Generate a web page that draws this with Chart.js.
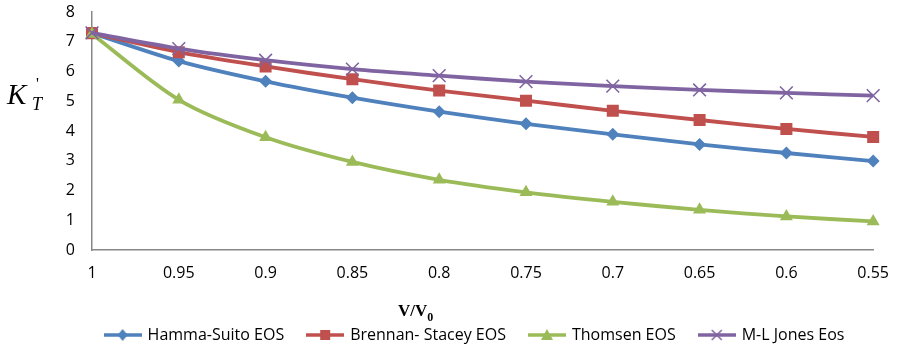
<!DOCTYPE html>
<html><head><meta charset="utf-8">
<script src="https://cdn.jsdelivr.net/npm/chart.js@4/dist/chart.umd.min.js"></script>
<style>html,body{margin:0;padding:0;background:#fff}#wrap{width:898px;height:348px}</style>
</head><body><div id="wrap"><canvas id="c" width="898" height="348"></canvas></div>
<script>
const categories = ['1','0.95','0.9','0.85','0.8','0.75','0.7','0.65','0.6','0.55'];
const hammaSuito = [7.29, 6.35, 5.67, 5.12, 4.65, 4.24, 3.89, 3.55, 3.26, 2.99];
const brennanStacey = [7.29, 6.65, 6.17, 5.74, 5.36, 5.02, 4.68, 4.37, 4.07, 3.80];
const thomsen = [7.26, 5.05, 3.79, 2.96, 2.36, 1.94, 1.62, 1.35, 1.13, 0.96];
const mlJones = [7.30, 6.77, 6.38, 6.08, 5.86, 5.66, 5.51, 5.38, 5.28, 5.19];
const seriesNames = ['Hamma-Suito EOS','Brennan- Stacey EOS','Thomsen EOS','M-L Jones Eos'];
const yTicks = [0,1,2,3,4,5,6,7,8];

const colors = ['#4F81BD','#C0504D','#9BBB59','#8064A2'];
const styles = ['rectRot','rect','triangle','crossRot'];
const radii = [6.5,8.5,7.5,9];
const FONT = '"Open Sans", "Liberation Sans", sans-serif';

function legendIcon(i){
  const cv = document.createElement('canvas');
  cv.width = 38; cv.height = 16;
  const g = cv.getContext('2d');
  g.strokeStyle = colors[i]; g.lineWidth = 3.5;
  g.beginPath(); g.moveTo(0,8); g.lineTo(38,8); g.stroke();
  g.fillStyle = colors[i];
  const cx=19, cy=8;
  if(i===0){ g.beginPath(); g.moveTo(cx,cy-6); g.lineTo(cx+5,cy); g.lineTo(cx,cy+6); g.lineTo(cx-5,cy); g.closePath(); g.fill(); }
  else if(i===1){ g.fillRect(cx-5,cy-5,10,10); }
  else if(i===2){ g.beginPath(); g.moveTo(cx,cy-6); g.lineTo(cx+6,cy+5); g.lineTo(cx-6,cy+5); g.closePath(); g.fill(); }
  else { g.lineWidth=1.5; g.beginPath(); g.moveTo(cx-5,cy-5); g.lineTo(cx+5,cy+5); g.moveTo(cx+5,cy-5); g.lineTo(cx-5,cy+5); g.stroke(); }
  return cv;
}
const icons = [0,1,2,3].map(legendIcon);

const allData = [hammaSuito, brennanStacey, thomsen, mlJones];
const datasets = allData.map((d,i)=>({
  label: seriesNames[i],
  data: d,
  order: 3 - i,
  borderColor: colors[i],
  backgroundColor: colors[i],
  borderWidth: 3.8,
  pointStyle: styles[i],
  pointRadius: radii[i],
  pointHoverRadius: radii[i],
  pointBorderWidth: i===3 ? 1.6 : 0,
  pointBorderColor: colors[i],
  pointBackgroundColor: colors[i],
  tension: 0.3,
  fill: false
}));

const titles = {
  id: 'titles',
  afterLayout(chart){ const l = chart.legend; l.left += 37; l.right += 37; l.top += 5; l.bottom += 5; },
  afterDraw(chart){
    const ctx = chart.ctx;
    ctx.save();
    ctx.fillStyle = '#000';
    ctx.textBaseline = 'alphabetic';
    ctx.font = 'italic 29px "Liberation Serif", serif';
    ctx.fillText('K', 7, 104);
    ctx.font = 'italic 18px "Liberation Serif", serif';
    ctx.fillText('T', 32, 110);
    ctx.font = '16px "Liberation Serif", serif';
    ctx.fillText("'", 36, 89);
    ctx.font = 'bold 17px "Liberation Serif", serif';
    ctx.fillText('V/V', 398, 316);
    const w = ctx.measureText('V/V').width;
    ctx.font = 'bold 12px "Liberation Serif", serif';
    ctx.fillText('0', 398 + w, 321);
    ctx.restore();
  }
};

new Chart(document.getElementById('c'), {
  type: 'line',
  data: { labels: categories, datasets },
  options: {
    responsive: false,
    animation: false,
    devicePixelRatio: 1,
    layout: { padding: { left: 0, right: 22, top: 12, bottom: 0 } },
    plugins: {
      tooltip: { enabled: false },
      legend: {
        position: 'bottom',
        align: 'center',
        labels: {
          usePointStyle: true,
          pointStyleWidth: 34,
          boxHeight: 16,
          padding: 24,
          color: '#000',
          font: { family: FONT, size: 16 },
          generateLabels(chart){
            return seriesNames.map((n,i)=>({ text: n, pointStyle: icons[i], fillStyle: colors[i], strokeStyle: colors[i], lineWidth: 0, hidden: false, datasetIndex: i, fontColor: '#000' }));
          }
        }
      }
    },
    scales: {
      x: {
        type: 'category',
        offset: false,
        grid: { display: false, drawOnChartArea: false, drawTicks: true, tickLength: 5, tickColor: '#888', tickWidth: 1 },
        border: { display: true, color: '#888', width: 1.5 },
        ticks: { color: '#000', font: { family: FONT, size: 16 }, padding: 9, maxRotation: 0, autoSkip: false },
        afterFit(s){ s.height = 48; }
      },
      y: {
        min: 0, max: 8,
        afterBuildTicks(s){ s.ticks = yTicks.map(v=>({value:v})); },
        grid: { display: false, drawOnChartArea: false, drawTicks: true, tickLength: 5, tickColor: '#888', tickWidth: 1 },
        border: { display: true, color: '#888', width: 1.5 },
        ticks: { color: '#000', font: { family: FONT, size: 16 }, padding: 12 },
        afterFit(s){ s.width = 92; s.paddingTop = 0; s.paddingBottom = 0; }
      }
    }
  },
  plugins: [titles]
});
</script></body></html>
